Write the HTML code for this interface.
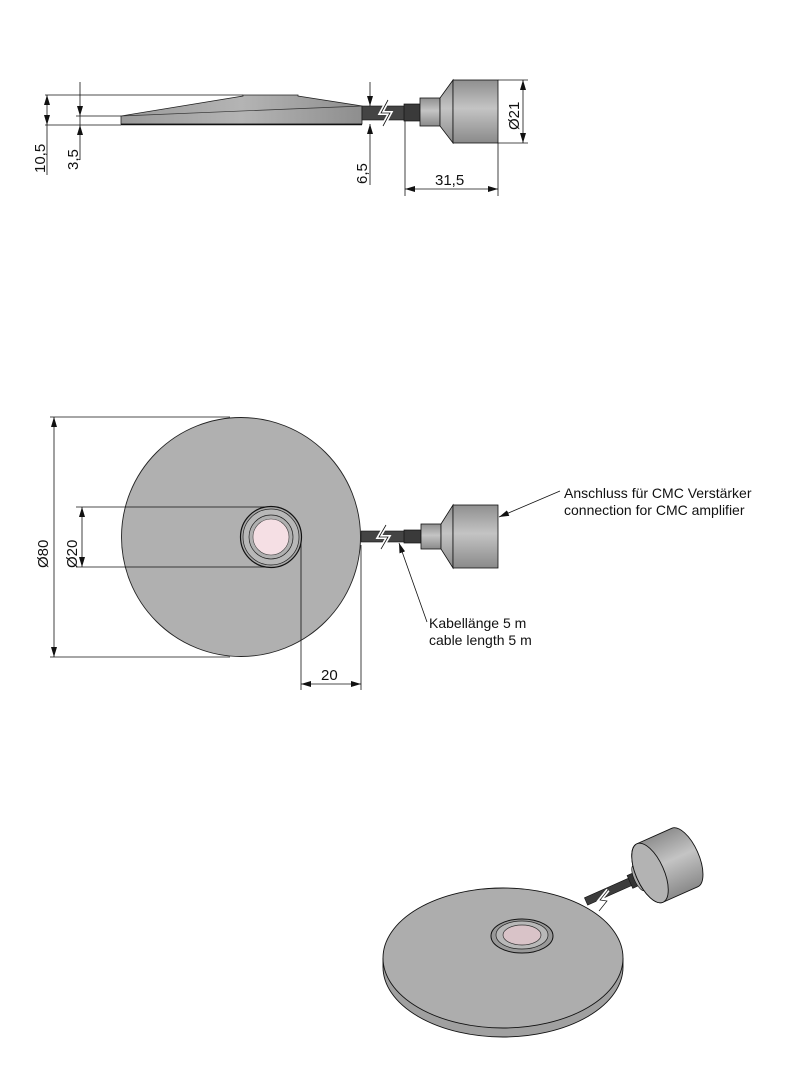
<!DOCTYPE html>
<html><head><meta charset="utf-8"><style>
html,body{margin:0;padding:0;background:#fff}
svg{display:block}
text{font-family:"Liberation Sans",Arial,sans-serif;fill:#111}
</style></head><body>
<svg width="789" height="1080" viewBox="0 0 789 1080" xmlns="http://www.w3.org/2000/svg">
<defs>
<linearGradient id="cyl" x1="0" y1="0" x2="0" y2="1">
<stop offset="0" stop-color="#8f8f8f"/><stop offset="0.45" stop-color="#c4c4c4"/><stop offset="1" stop-color="#8a8a8a"/></linearGradient>
<linearGradient id="disk" x1="0" y1="0" x2="1" y2="0">
<stop offset="0" stop-color="#9a9a9a"/><stop offset="0.5" stop-color="#b4b4b4"/><stop offset="1" stop-color="#8e8e8e"/></linearGradient>
<marker id="a" viewBox="0 0 10 6" refX="10" refY="3" markerWidth="10" markerHeight="6" orient="auto-start-reverse" markerUnits="userSpaceOnUse"><path d="M0,0L10,3L0,6z" fill="#111"/></marker>
</defs>
<g stroke="#111" stroke-width="0.8" fill="none">
<line x1="45" y1="95" x2="243" y2="95"/>
<line x1="45" y1="125" x2="121" y2="125"/>
<line x1="76" y1="116" x2="121" y2="116"/>
<line x1="47" y1="95" x2="47" y2="125" marker-start="url(#a)" marker-end="url(#a)"/>
<line x1="47" y1="125" x2="47" y2="175"/>
<line x1="80" y1="82" x2="80" y2="116" marker-end="url(#a)"/>
<line x1="80" y1="160" x2="80" y2="125" marker-end="url(#a)"/>
<line x1="80" y1="116" x2="80" y2="125"/>
<line x1="370" y1="82" x2="370" y2="106" marker-end="url(#a)"/>
<line x1="370" y1="185" x2="370" y2="124" marker-end="url(#a)"/>
<line x1="498" y1="80" x2="528" y2="80"/>
<line x1="498" y1="143" x2="528" y2="143"/>
<line x1="523" y1="80" x2="523" y2="143" marker-start="url(#a)" marker-end="url(#a)"/>
<line x1="405" y1="118" x2="405" y2="196"/>
<line x1="498" y1="143" x2="498" y2="196"/>
<line x1="405" y1="189" x2="498" y2="189" marker-start="url(#a)" marker-end="url(#a)"/>
</g>
<polygon points="121,116 243,96 243,95 298,95 298,96 362,106 362,124 121,124" fill="url(#disk)" stroke="#222" stroke-width="0.8"/>
<line x1="121" y1="116" x2="362" y2="106" stroke="#333" stroke-width="0.7"/>
<line x1="121" y1="124.5" x2="362" y2="124.5" stroke="#111" stroke-width="1.5"/>
<rect x="362" y="106" width="43" height="14" fill="#444" stroke="#111" stroke-width="0.6"/>
<path d="M388,100 L381,113 L390,113 L383,126" stroke="#fff" stroke-width="4" fill="none"/>
<path d="M388,100 L381,113 L390,113 L383,126" stroke="#111" stroke-width="0.8" fill="none"/>
<rect x="404" y="104" width="17" height="17" fill="#3a3a3a" stroke="#111" stroke-width="0.7"/>
<rect x="420" y="98" width="20" height="28" fill="url(#cyl)" stroke="#111" stroke-width="0.8"/>
<polygon points="440,98 453,80 453,143 440,126" fill="url(#cyl)" stroke="#111" stroke-width="0.8"/>
<rect x="453" y="80" width="45" height="63" fill="url(#cyl)" stroke="#111" stroke-width="0.8"/>
<g font-size="15">
<text transform="translate(45,173) rotate(-90)">10,5</text>
<text transform="translate(78,170) rotate(-90)">3,5</text>
<text transform="translate(367,184) rotate(-90)">6,5</text>
<text transform="translate(519,130) rotate(-90)">Ø21</text>
<text x="435" y="185">31,5</text>
</g>

<circle cx="241" cy="537" r="119.5" fill="#b0b0b0" stroke="#222" stroke-width="0.9"/>
<g stroke="#111" stroke-width="0.8" fill="none">
<line x1="50" y1="417" x2="230" y2="417"/>
<line x1="50" y1="657" x2="230" y2="657"/>
<line x1="54" y1="417" x2="54" y2="657" marker-start="url(#a)" marker-end="url(#a)"/>
<line x1="76" y1="507" x2="266" y2="507"/>
<line x1="76" y1="567" x2="266" y2="567"/>
<line x1="82" y1="507" x2="82" y2="567" marker-start="url(#a)" marker-end="url(#a)"/>
<line x1="301" y1="540" x2="301" y2="690"/>
<line x1="361" y1="545" x2="361" y2="690"/>
<line x1="301" y1="684" x2="361" y2="684" marker-start="url(#a)" marker-end="url(#a)"/>
</g>
<circle cx="271" cy="537" r="30.5" fill="#a8a8a8" stroke="#111" stroke-width="1.2"/>
<circle cx="271" cy="537" r="28" fill="#b8b8b8" stroke="#222" stroke-width="0.7"/>
<circle cx="271" cy="537" r="22" fill="#b0b0b0" stroke="#222" stroke-width="0.7"/>
<circle cx="271" cy="537" r="18" fill="#f5dfe4" stroke="#444" stroke-width="0.6"/>
<rect x="361" y="531" width="44" height="11" fill="#444" stroke="#111" stroke-width="0.6"/>
<path d="M386,525 L379,537 L388,537 L381,549" stroke="#fff" stroke-width="4" fill="none"/>
<path d="M386,525 L379,537 L388,537 L381,549" stroke="#111" stroke-width="0.8" fill="none"/>
<rect x="404" y="530" width="17" height="13" fill="#3a3a3a" stroke="#111" stroke-width="0.7"/>
<rect x="421" y="524" width="20" height="25" fill="url(#cyl)" stroke="#111" stroke-width="0.8"/>
<polygon points="441,524 453,505 453,568 441,549" fill="url(#cyl)" stroke="#111" stroke-width="0.8"/>
<rect x="453" y="505" width="45" height="63" fill="url(#cyl)" stroke="#111" stroke-width="0.8"/>
<line x1="560" y1="491" x2="499" y2="517" stroke="#111" stroke-width="0.8" marker-end="url(#a)"/>
<line x1="427" y1="622" x2="399" y2="543" stroke="#111" stroke-width="0.8" marker-end="url(#a)"/>
<g font-size="15">
<text transform="translate(48,568) rotate(-90)">Ø80</text>
<text transform="translate(77,568) rotate(-90)">Ø20</text>
<text x="321" y="680">20</text>
</g>
<g font-size="14">
<text x="564" y="498">Anschluss für CMC Verstärker</text>
<text x="564" y="515">connection for CMC amplifier</text>
<text x="429" y="628">Kabellänge 5 m</text>
<text x="429" y="645">cable length 5 m</text>
</g>

<g transform="translate(650,873) rotate(-24)">
<rect x="-70" y="-4" width="52" height="8" fill="#3c3c3c" stroke="#111" stroke-width="0.6"/>
<rect x="-22" y="-7" width="10" height="14" fill="#333" stroke="#111" stroke-width="0.6"/>
<rect x="-12" y="-14" width="12" height="28" fill="#bbb" stroke="#111" stroke-width="0.6"/>
<ellipse cx="-12" cy="0" rx="5" ry="14" fill="#aaa" stroke="#111" stroke-width="0.6"/>
<path d="M0,-32 L38,-32 A14,32 0 0 1 38,32 L0,32 A14,32 0 0 1 0,-32z" fill="url(#cyl)" stroke="#111" stroke-width="0.9"/>
<ellipse cx="0" cy="0" rx="14" ry="32" fill="#b3b3b3" stroke="#111" stroke-width="0.9"/>
</g>
<path d="M608,890 L600,900 L607,901 L599,911" stroke="#fff" stroke-width="4" fill="none"/>
<path d="M608,890 L600,900 L607,901 L599,911" stroke="#111" stroke-width="0.7" fill="none"/>
<path d="M383,958 L383,967 A120,70 0 0 0 623,967 L623,958" fill="#a0a0a0" stroke="#111" stroke-width="0.9"/>
<ellipse cx="503" cy="958" rx="120" ry="70" fill="#adadad" stroke="#111" stroke-width="0.9"/>
<ellipse cx="522" cy="936" rx="31" ry="17" fill="#999" stroke="#111" stroke-width="1"/>
<ellipse cx="522" cy="935" rx="26" ry="14" fill="#b8b8b8" stroke="#222" stroke-width="0.7"/>
<ellipse cx="522" cy="935" rx="19" ry="10" fill="#d9c3c8" stroke="#333" stroke-width="0.7"/>
</svg>
</body></html>
